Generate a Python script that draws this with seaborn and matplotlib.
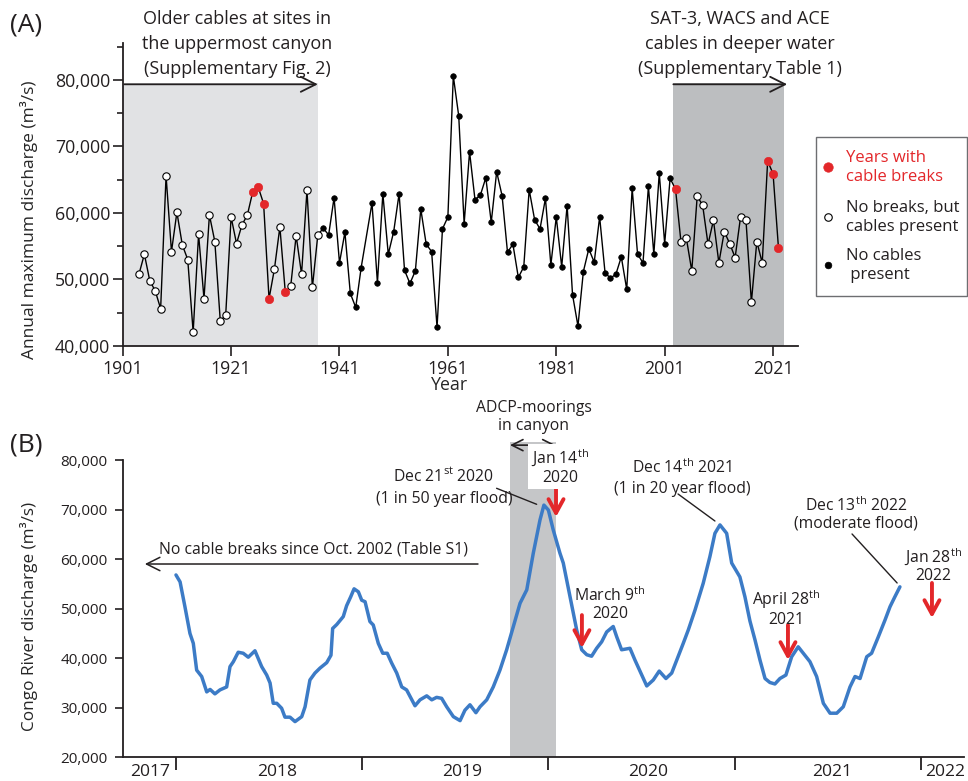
import matplotlib
matplotlib.use("Agg")
import matplotlib.pyplot as plt
import matplotlib.transforms as mtransforms
from matplotlib.lines import Line2D
from matplotlib.patches import Rectangle
import seaborn as sns
import pandas as pd

# ---------------- data: panel A (annual maximum discharge) ----------------
years = list(range(1904, 1946)) + list(range(1947, 2023))
annual_max = [
    50800, 53800, 49800, 48300, 45600, 65600, 54200, 60100, 55200, 53000,
    42100, 56800, 47100, 59700, 55700, 43800, 44600, 59400, 55400, 58200,
    59700, 63200, 63900, 61400, 47100, 51600, 57900, 48100, 49000, 56600,
    50800, 63400, 48800, 56700, 57700, 56700, 62300, 52500, 57100, 47900, 45800, 51800,
    61500, 49500, 62900, 53800, 57200, 62900, 51400, 49400, 51300, 60600,
    55300, 54200, 42800, 57600, 59400, 80600, 74600, 58400, 69200, 62000,
    62700, 65300, 58600, 66200, 62600, 54100, 55300, 50300, 51900, 63500,
    59000, 57600, 62200, 52200, 59400, 51900, 61100, 47700, 43000, 51200,
    54600, 52600, 59400, 51000, 50200, 50800, 53400, 48500, 63700, 53800,
    52500, 64000, 53800, 66000, 55400, 65200, 63600, 55700, 56200, 51300,
    62500, 61200, 55300, 58900, 52500, 57200, 55400, 53300, 59400, 58900,
    46600, 55700, 52500, 67800, 65900, 54700,
]
break_years = [1925, 1926, 1927, 1928, 1931, 2003, 2020, 2021, 2022]
cable_periods = [(1904, 1937), (2003, 2022)]
shade_old = (1901, 1937.0)
shade_new = (2002.5, 2023.0)
xticks_a = [1901, 1921, 1941, 1961, 1981, 2001, 2021]
yticks_a = [40000, 50000, 60000, 70000, 80000]
legend_labels = ['Years with\ncable breaks', 'No breaks, but\ncables present', 'No cables\n present']

# ---------------- data: panel B (daily Congo River discharge) ----------------
flow_time = [
    2018.001, 2018.023, 2018.049, 2018.076, 2018.094, 2018.112, 2018.139, 2018.166, 2018.184, 2018.210,
    2018.237, 2018.273, 2018.291, 2018.309, 2018.335, 2018.362, 2018.389, 2018.425, 2018.461, 2018.488,
    2018.506, 2018.523, 2018.542, 2018.568, 2018.586, 2018.613, 2018.640, 2018.676, 2018.694, 2018.720,
    2018.747, 2018.774, 2018.810, 2018.833, 2018.842, 2018.864, 2018.899, 2018.917, 2018.939, 2018.957,
    2018.980, 2018.998, 2019.016, 2019.042, 2019.060, 2019.087, 2019.111, 2019.135, 2019.159, 2019.186,
    2019.213, 2019.239, 2019.284, 2019.311, 2019.347, 2019.374, 2019.400, 2019.427, 2019.454, 2019.490,
    2019.526, 2019.552, 2019.579, 2019.611, 2019.633, 2019.669, 2019.704, 2019.740, 2019.776, 2019.812,
    2019.848, 2019.884, 2019.919, 2019.955, 2019.976, 2020.000, 2020.026, 2020.062, 2020.080, 2020.116,
    2020.152, 2020.179, 2020.206, 2020.232, 2020.259, 2020.286, 2020.313, 2020.348, 2020.367, 2020.393,
    2020.438, 2020.465, 2020.501, 2020.528, 2020.563, 2020.595, 2020.631, 2020.662, 2020.689, 2020.724,
    2020.751, 2020.787, 2020.831, 2020.867, 2020.894, 2020.921, 2020.957, 2020.984, 2021.028, 2021.055,
    2021.082, 2021.109, 2021.136, 2021.163, 2021.189, 2021.216, 2021.243, 2021.275, 2021.306, 2021.341,
    2021.368, 2021.404, 2021.440, 2021.476, 2021.512, 2021.548, 2021.583, 2021.619, 2021.646, 2021.673,
    2021.709, 2021.735, 2021.771, 2021.807, 2021.834, 2021.860, 2021.887,
]
flow_q = [
    56800, 55400, 50400, 45000, 43000, 37600, 36300, 33200, 33700, 32800,
    33600, 34200, 38300, 39300, 41200, 41000, 40200, 41500, 38300, 36600,
    35000, 30900, 30900, 29900, 28100, 28100, 27200, 28200, 30200, 35600,
    37000, 38000, 39100, 40600, 46000, 46800, 48400, 50600, 52400, 54000,
    53400, 51700, 51400, 47400, 46700, 43000, 41000, 41000, 39000, 37000,
    34200, 33600, 30400, 31600, 32400, 31600, 32100, 31900, 30200, 28200,
    27400, 29500, 30600, 29000, 30200, 31600, 34200, 37600, 41700, 46400,
    51100, 53800, 61200, 67900, 70900, 69900, 65900, 61200, 59200, 52400,
    45700, 41700, 40700, 40400, 42000, 43300, 45300, 46400, 44300, 41700,
    42000, 39600, 36600, 34400, 35600, 37400, 35900, 37000, 39600, 43000,
    45700, 49700, 55100, 60500, 65200, 66900, 65200, 59200, 56400, 52400,
    47500, 43700, 39600, 35900, 35100, 34800, 35900, 36600, 40300, 42300,
    41000, 39300, 36300, 30900, 28900, 28900, 30200, 34200, 36300, 35900,
    40300, 41000, 44300, 47700, 50400, 52400, 54400,
]
year_bounds = [2018, 2019, 2020, 2021, 2022]
year_labels = ["2017", "2018", "2019", "2020", "2021", "2022"]
year_label_pos = [2017.862, 2018.543, 2019.536, 2020.535, 2021.522, 2022.128]
yticks_b = [20000, 30000, 40000, 50000, 60000, 70000, 80000]
adcp_span = (2019.794, 2020.039)
# red arrows: (time, start value, end value)
break_events = [(2020.041, 74950, 68500), (2020.180, 48700, 42060),
                (2021.286, 46700, 39640), (2022.059, 55180, 48110)]

# ---------------- style ----------------
sns.set_theme(style="ticks")
FONT = ['Open Sans', 'DejaVu Sans']
plt.rcParams['font.family'] = FONT
plt.rcParams['mathtext.fontset'] = 'custom'
plt.rcParams['mathtext.rm'] = 'Open Sans'
plt.rcParams['mathtext.it'] = 'Open Sans:italic'
plt.rcParams['mathtext.bf'] = 'Open Sans:bold'
INK = '#231f20'
RED = '#e3272a'
BLUE = '#3c7bc6'
plt.rcParams['text.color'] = INK
plt.rcParams['axes.edgecolor'] = INK
plt.rcParams['xtick.color'] = INK
plt.rcParams['ytick.color'] = INK

W, H = 968, 781
fig = plt.figure(figsize=(W / 100, H / 100), dpi=100)
PIX = mtransforms.Affine2D().scale(1 / W, -1 / H).translate(0, 1) + fig.transFigure

ax1 = fig.add_axes([122.7 / W, 1 - 346 / H, (798 - 122.7) / W, (346 - 43.4) / H])
ax2 = fig.add_axes([122.7 / W, 1 - 757.3 / H, (964 - 122.7) / W, (757.3 - 460) / H])

# ================= Panel A =================
status = []
for y in years:
    if y in break_years:
        status.append('break')
    elif any(a <= y <= b for a, b in cable_periods):
        status.append('present')
    else:
        status.append('none')
df_a = pd.DataFrame({'year': years, 'discharge': annual_max, 'status': status})

A_YMIN, A_YMAX = 40000, 85500
shade_top = (79600 - A_YMIN) / (A_YMAX - A_YMIN)
ax1.axvspan(*shade_old, ymin=0, ymax=shade_top, color='#e1e2e4', lw=0, zorder=0)
ax1.axvspan(*shade_new, ymin=0, ymax=shade_top, color='#bcbec0', lw=0, zorder=0)

sns.lineplot(data=df_a, x='year', y='discharge', color='black', lw=1.0, ax=ax1,
             zorder=2, estimator=None, sort=False)
mstyle = {
    'none': dict(color='black', edgecolor='black', s=16, linewidth=0.5),
    'present': dict(color='white', edgecolor='black', s=28, linewidth=0.8),
    'break': dict(color=RED, edgecolor=RED, s=36, linewidth=0.5),
}
for st, kw in mstyle.items():
    sns.scatterplot(data=df_a[df_a.status == st], x='year', y='discharge', ax=ax1,
                    zorder=3, legend=False, **kw)

arrow_kw = dict(arrowstyle='->,head_length=0.6,head_width=0.3', lw=1.3, color=INK,
                mutation_scale=18, shrinkA=0, shrinkB=0)
ax1.annotate('', xy=(shade_old[1], 79350), xytext=(shade_old[0] + 0.3, 79350), arrowprops=arrow_kw)
ax1.annotate('', xy=(2023.6, 79350), xytext=(shade_new[0] + 0.1, 79350), arrowprops=arrow_kw,
             annotation_clip=False)

ax1.set_xlim(1901, 2025.6)
ax1.set_ylim(A_YMIN, A_YMAX)
ax1.set_xticks(xticks_a)
ax1.set_yticks(yticks_a)
ax1.set_yticklabels([f"{v:,}" for v in yticks_a])
ax1.set_yticks([45000, 55000, 65000, 75000, 85000], minor=True)
ax1.tick_params(axis='both', which='major', labelsize=12.8, length=7, width=1.2, pad=2)
ax1.tick_params(axis='x', which='major', pad=3)
ax1.tick_params(axis='y', which='minor', length=4, width=1.2)
sns.despine(ax=ax1)
for sp in ('left', 'bottom'):
    ax1.spines[sp].set_linewidth(1.3)
ax1.set_xlabel('Year', fontsize=12.8)
ax1.xaxis.set_label_coords((450 - 122.7) / 675.3, (346 - 376) / 302.6)
ax1.set_ylabel('Annual maximum discharge (m³/s)', fontsize=12.5)
ax1.yaxis.set_label_coords((38 - 122.7) / 675.3, (346 - 220) / 302.6)

# legend box (drawn by hand to match the reference layout)
fig.add_artist(Rectangle((816, 137), 151, 159, transform=PIX, fill=False,
                         ec='#6d6e71', lw=1.0))
leg_markers = [
    dict(mfc=RED, mec=RED, ms=6.8, mew=0.5),
    dict(mfc='white', mec='black', ms=5.4, mew=0.8),
    dict(mfc='black', mec='black', ms=4.8, mew=0.5),
]
leg_y = [167, 217, 265]
for lab, mk, yy in zip(legend_labels, leg_markers, leg_y):
    fig.add_artist(Line2D([828], [yy], transform=PIX, ls='', marker='o', **mk))
    fig.text(846, yy + 0.5, lab, transform=PIX, fontsize=12, ha='left', va='center',
             linespacing=1.2, color=RED if mk['mfc'] == RED else INK)

fig.text(10, 25, '(A)', transform=PIX, fontsize=19, va='center', ha='left')
fig.text(237, 44, 'Older cables at sites in\nthe uppermost canyon\n(Supplementary Fig. 2)',
         transform=PIX, fontsize=13, ha='center', va='center', multialignment='center',
         linespacing=1.5)
fig.text(740, 44, 'SAT-3, WACS and ACE\ncables in deeper water\n(Supplementary Table 1)',
         transform=PIX, fontsize=13, ha='center', va='center', multialignment='center',
         linespacing=1.5)

# ================= Panel B =================
df_b = pd.DataFrame({'time': flow_time, 'discharge': flow_q})
B_YMIN, B_YMAX = 20000, 80000
span = ax2.axvspan(*adcp_span, ymin=0, ymax=(83600 - B_YMIN) / (B_YMAX - B_YMIN),
                   color='#c5c6c8', lw=0, zorder=0)
span.set_clip_on(False)
sns.lineplot(data=df_b, x='time', y='discharge', color=BLUE, lw=2.5, ax=ax2, zorder=3,
             estimator=None, sort=False)

ax2.set_xlim(2017.715, 2022.231)
ax2.set_ylim(B_YMIN, B_YMAX)
ax2.set_xticks(year_bounds)
ax2.set_xticklabels([])
ax2.set_xticks(year_label_pos, minor=True)
ax2.set_xticklabels(year_labels, minor=True)
ax2.tick_params(axis='x', which='major', length=9.5, width=1.3)
ax2.tick_params(axis='x', which='minor', length=0, labelsize=12.6, pad=5)
ax2.set_yticks(yticks_b)
ax2.set_yticklabels([f"{v:,}" for v in yticks_b])
ax2.tick_params(axis='y', which='major', length=6, width=1.2, labelsize=11, pad=5)
sns.despine(ax=ax2)
for sp in ('left', 'bottom'):
    ax2.spines[sp].set_linewidth(1.3)
ax2.set_xlabel('')
ax2.set_ylabel('Congo River discharge (m³/s)', fontsize=12.3)
ax2.yaxis.set_label_coords((38 - 122.7) / 841.3, (757.3 - 616) / 297.3)

# ADCP double arrow
ax2.annotate('', xy=(adcp_span[0], 83000), xytext=(adcp_span[1], 83000),
             arrowprops=dict(arrowstyle='<->,head_length=0.5,head_width=0.25', lw=1.2,
                             color=INK, mutation_scale=16, shrinkA=0, shrinkB=0),
             annotation_clip=False)
# red cable-break arrows
for t, v0, v1 in break_events:
    ax2.annotate('', xy=(t, v1), xytext=(t, v0),
                 arrowprops=dict(arrowstyle='->,head_length=0.55,head_width=0.3', lw=2.8,
                                 color=RED, mutation_scale=18, shrinkA=0, shrinkB=0),
                 annotation_clip=False, zorder=5)
# "No cable breaks" arrow
ax2.annotate('', xy=(2017.834, 59010), xytext=(2019.622, 59010),
             arrowprops=dict(arrowstyle='->,head_length=0.6,head_width=0.3', lw=1.1,
                             color=INK, mutation_scale=16, shrinkA=0, shrinkB=0))
# connector lines to flood peaks
line_kw = dict(arrowstyle='-', lw=1.0, color=INK, shrinkA=0, shrinkB=0)
ax2.annotate('', xy=(2019.937, 71060), xytext=(2019.722, 74290), arrowprops=line_kw, annotation_clip=False)
ax2.annotate('', xy=(2020.894, 67690), xytext=(2020.696, 73140), arrowprops=line_kw, annotation_clip=False)
ax2.annotate('', xy=(2021.872, 55180), xytext=(2021.630, 65070), arrowprops=line_kw, annotation_clip=False)

fsb = 11.3
fig.text(10, 445, '(B)', transform=PIX, fontsize=19, va='center', ha='left')
fig.text(534, 417, 'ADCP-moorings\nin canyon', transform=PIX, fontsize=fsb, ha='center',
         va='center', multialignment='center', linespacing=1.1)
fig.text(444, 487, 'Dec 21$^{\\rm st}$ 2020\n(1 in 50 year flood)', transform=PIX, fontsize=fsb,
         ha='center', va='center', multialignment='center', linespacing=1.45)
fig.text(560, 467, 'Jan 14$^{\\rm th}$\n2020', transform=PIX, fontsize=fsb, ha='center',
         va='center', multialignment='center', linespacing=1.05, zorder=4,
         bbox=dict(facecolor='white', edgecolor='none', pad=2))
fig.text(682, 478, 'Dec 14$^{\\rm th}$ 2021\n(1 in 20 year flood)', transform=PIX, fontsize=fsb,
         ha='center', va='center', multialignment='center', linespacing=1.35)
fig.text(610, 604, 'March 9$^{\\rm th}$\n2020', transform=PIX, fontsize=fsb, ha='center',
         va='center', multialignment='center', linespacing=1.05)
fig.text(786, 608, 'April 28$^{\\rm th}$\n2021', transform=PIX, fontsize=fsb, ha='center',
         va='center', multialignment='center', linespacing=1.05)
fig.text(856, 514, 'Dec 13$^{\\rm th}$ 2022\n(moderate flood)', transform=PIX, fontsize=fsb,
         ha='center', va='center', multialignment='center', linespacing=1.0)
fig.text(933, 565, 'Jan 28$^{\\rm th}$\n2022', transform=PIX, fontsize=fsb, ha='center',
         va='center', multialignment='center', linespacing=1.0)
fig.text(159, 549, 'No cable breaks since Oct. 2002 (Table S1)', transform=PIX, fontsize=fsb,
         ha='left', va='center')

fig.savefig('out.png', dpi=100)
